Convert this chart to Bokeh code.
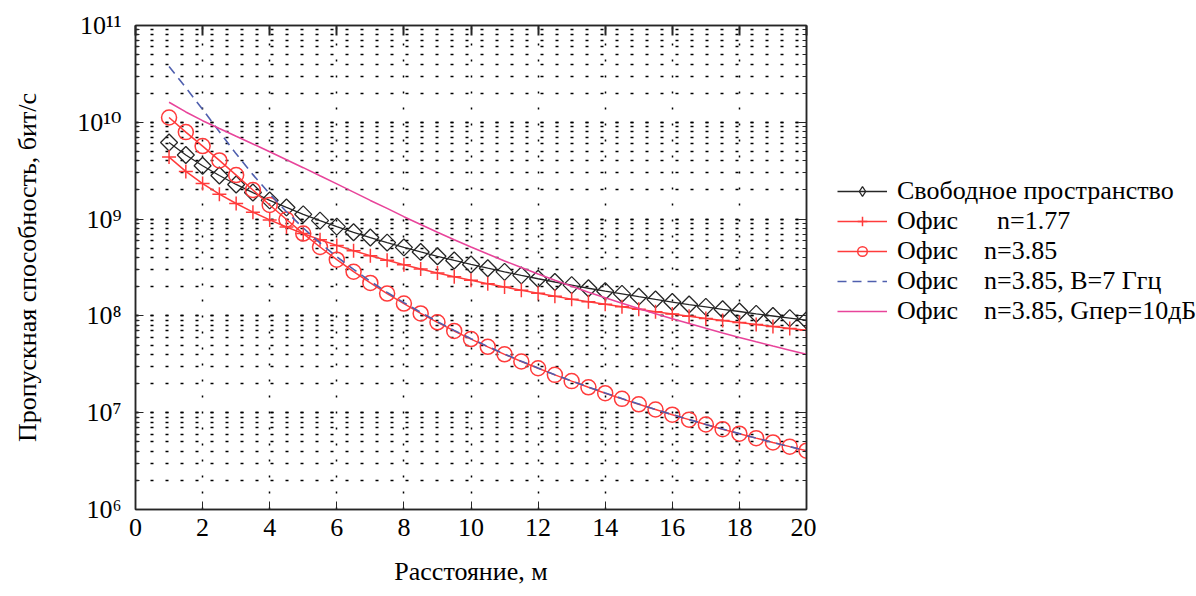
# -*- coding: utf-8 -*-
from bokeh.plotting import figure
from bokeh.layouts import row
from bokeh.models import (LogAxis, LinearAxis, Legend, LegendItem, FixedTicker,
                          LogTicker, CustomJSTickFormatter, Range1d)
from bokeh.embed import file_html
from bokeh.resources import INLINE

# ---------------- data ----------------
distance = [1.0, 1.5, 2.0, 2.5, 3.0, 3.5, 4.0, 4.5, 5.0, 5.5, 6.0, 6.5, 7.0, 7.5,
            8.0, 8.5, 9.0, 9.5, 10.0, 10.5, 11.0, 11.5, 12.0, 12.5, 13.0, 13.5,
            14.0, 14.5, 15.0, 15.5, 16.0, 16.5, 17.0, 17.5, 18.0, 18.5, 19.0,
            19.5, 20.0]

free_space = [6.18e9, 4.60e9, 3.56e9, 2.82e9, 2.28e9, 1.88e9, 1.56e9, 1.32e9,
              1.12e9, 9.64e8, 8.36e8, 7.31e8, 6.45e8, 5.72e8, 5.10e8, 4.58e8,
              4.13e8, 3.74e8, 3.40e8, 3.11e8, 2.85e8, 2.62e8, 2.42e8, 2.24e8,
              2.08e8, 1.93e8, 1.80e8, 1.69e8, 1.58e8, 1.48e8, 1.39e8, 1.31e8,
              1.24e8, 1.17e8, 1.11e8, 1.05e8, 9.98e7, 9.49e7, 9.03e7]

office_n177 = [4.37e9, 3.11e9, 2.33e9, 1.81e9, 1.45e9, 1.18e9, 9.81e8, 8.28e8,
               7.08e8, 6.12e8, 5.35e8, 4.72e8, 4.19e8, 3.75e8, 3.37e8, 3.05e8,
               2.78e8, 2.54e8, 2.33e8, 2.15e8, 1.99e8, 1.84e8, 1.71e8, 1.60e8,
               1.49e8, 1.40e8, 1.32e8, 1.24e8, 1.17e8, 1.105e8, 1.046e8, 9.92e7,
               9.42e7, 8.96e7, 8.53e7, 8.13e7, 7.76e7, 7.42e7, 7.10e7]

office_n385 = [1.12e10, 7.92e9, 5.68e9, 4.04e9, 2.85e9, 2.00e9, 1.40e9, 9.91e8,
               7.09e8, 5.15e8, 3.81e8, 2.86e8, 2.19e8, 1.70e8, 1.34e8, 1.06e8,
               8.58e7, 6.99e7, 5.76e7, 4.79e7, 4.01e7, 3.38e7, 2.88e7, 2.46e7,
               2.12e7, 1.83e7, 1.59e7, 1.39e7, 1.22e7, 1.08e7, 9.54e6, 8.48e6,
               7.56e6, 6.76e6, 6.07e6, 5.46e6, 4.93e6, 4.46e6, 4.05e6]

office_n385_b7 = [3.77e10, 2.28e10, 1.36e10, 7.98e9, 4.72e9, 2.88e9, 1.82e9, 1.19e9,
                  8.09e8, 5.67e8, 4.09e8, 3.02e8, 2.28e8, 1.75e8, 1.37e8, 1.09e8,
                  8.72e7, 7.09e7, 5.82e7, 4.83e7, 4.04e7, 3.40e7, 2.89e7, 2.47e7,
                  2.13e7, 1.84e7, 1.60e7, 1.40e7, 1.23e7, 1.08e7, 9.56e6, 8.49e6,
                  7.57e6, 6.77e6, 6.08e6, 5.47e6, 4.93e6, 4.46e6, 4.05e6]

office_n385_g10 = [1.61e10, 1.28e10, 1.04e10, 8.62e9, 7.17e9, 5.97e9, 4.96e9, 4.11e9,
                   3.40e9, 2.80e9, 2.31e9, 1.90e9, 1.56e9, 1.29e9, 1.06e9, 8.81e8,
                   7.33e8, 6.13e8, 5.16e8, 4.36e8, 3.70e8, 3.16e8, 2.71e8, 2.34e8,
                   2.03e8, 1.76e8, 1.54e8, 1.35e8, 1.19e8, 1.05e8, 9.35e7, 8.33e7,
                   7.44e7, 6.67e7, 5.99e7, 5.40e7, 4.88e7, 4.42e7, 4.01e7]

x_ticks = [0, 2, 4, 6, 8, 10, 12, 14, 16, 18, 20]

labels = ["Свободное пространство",
          "Офис\u00a0\u00a0\u00a0\u00a0\u00a0\u00a0n=1.77",
          "Офис\u00a0\u00a0\u00a0\u00a0n=3.85",
          "Офис\u00a0\u00a0\u00a0\u00a0n=3.85, B=7 Ггц",
          "Офис\u00a0\u00a0\u00a0\u00a0n=3.85, Gпер=10дБ"]

x_label = "Расстояние, м"
y_label = "Пропускная способность, бит/с"

# ---------------- styles ----------------
FONT = "Liberation Serif"
YTICK_FONT = "Liberation Serif, DejaVu Serif"
BLACK = "#262626"
RED = "#ff3b3b"
BLUE = "#4f5fae"
MAGENTA = "#e8449a"

SERIES = [
    dict(y=free_space, color=BLACK, marker="square", angle=0.785, msize=12,
         lmarker="diamond", lsize=12, dash="solid", lw=1.3),
    dict(y=office_n177, color=RED, marker="cross", angle=0.0, msize=14,
         lmarker="cross", lsize=14, dash="solid", lw=1.5),
    dict(y=office_n385, color=RED, marker="circle", angle=0.0, msize=15,
         lmarker="circle", lsize=14, dash="solid", lw=1.5),
    dict(y=office_n385_b7, color=BLUE, marker=None, angle=0.0, msize=0,
         lmarker=None, lsize=0, dash="9 6", lw=1.6),
    dict(y=office_n385_g10, color=MAGENTA, marker=None, angle=0.0, msize=0,
         lmarker=None, lsize=0, dash="solid", lw=1.6),
]

# ---------------- main plot ----------------
p = figure(width=816, height=596, x_range=Range1d(0, 20),
           y_range=Range1d(1e6, 1e11), y_axis_type="log",
           output_backend="svg", toolbar_location=None,
           min_border_left=135, min_border_right=10,
           min_border_top=25, min_border_bottom=87)
p.background_fill_color = "white"
p.border_fill_color = "white"
p.outline_line_color = BLACK
p.outline_line_width = 1.5

sup_formatter = CustomJSTickFormatter(code="""
const sup = {'0':'\u2070','1':'\u00b9','2':'\u00b2','3':'\u00b3','4':'\u2074',
             '5':'\u2075','6':'\u2076','7':'\u2077','8':'\u2078','9':'\u2079'};
const e = Math.round(Math.log10(tick));
return '10' + String(e).split('').map(c => sup[c]).join('');
""")
empty_formatter = CustomJSTickFormatter(code="return '';")

xticker = FixedTicker(ticks=x_ticks)
yticker = LogTicker(num_minor_ticks=10)

xa = p.xaxis[0]
xa.ticker = xticker
xa.axis_label = x_label
xa.axis_label_text_font = FONT
xa.axis_label_text_font_size = "26px"
xa.axis_label_text_font_style = "normal"
xa.axis_label_text_color = "black"
xa.axis_label_standoff = 18
xa.major_label_text_font = FONT
xa.major_label_text_font_size = "26px"
xa.major_label_text_color = "black"
xa.major_label_standoff = 9
xa.major_tick_in = 8
xa.major_tick_out = 0
xa.minor_tick_line_color = None
xa.axis_line_color = BLACK
xa.axis_line_width = 1.5
xa.major_tick_line_color = BLACK

ya = p.yaxis[0]
ya.ticker = yticker
ya.formatter = sup_formatter
ya.axis_label = y_label
ya.axis_label_text_font = FONT
ya.axis_label_text_font_size = "26px"
ya.axis_label_text_font_style = "normal"
ya.axis_label_text_color = "black"
ya.axis_label_standoff = 32
ya.major_label_text_font = YTICK_FONT
ya.major_label_text_font_size = "26px"
ya.major_label_text_color = "black"
ya.major_label_standoff = 14
ya.major_tick_in = 8
ya.major_tick_out = 0
ya.minor_tick_in = 4
ya.minor_tick_out = 0
ya.axis_line_color = BLACK
ya.axis_line_width = 1.5
ya.major_tick_line_color = BLACK
ya.minor_tick_line_color = BLACK

top = LinearAxis(ticker=xticker, formatter=empty_formatter,
                 major_tick_in=10, major_tick_out=0, minor_tick_line_color=None,
                 major_label_standoff=0, axis_line_color=BLACK, axis_line_width=1.5,
                 major_tick_line_color=BLACK, major_tick_line_width=2)
p.add_layout(top, "above")
right = LogAxis(ticker=yticker, formatter=empty_formatter,
                major_tick_in=8, major_tick_out=0, minor_tick_in=4, minor_tick_out=0,
                major_label_standoff=0, axis_line_color=BLACK, axis_line_width=1.5,
                major_tick_line_color=BLACK, minor_tick_line_color=BLACK)
p.add_layout(right, "right")

p.xgrid.ticker = xticker
p.xgrid.grid_line_color = "black"
p.xgrid.grid_line_dash = "2 14"
p.xgrid.grid_line_width = 1.5
p.ygrid.grid_line_color = "black"
p.ygrid.grid_line_dash = "3 12"
p.ygrid.grid_line_width = 1.5
p.ygrid.minor_grid_line_color = "black"
p.ygrid.minor_grid_line_dash = "3 12"
p.ygrid.minor_grid_line_width = 1.5

for s in SERIES:
    p.line(distance, s["y"], line_color=s["color"], line_width=s["lw"],
           line_dash=s["dash"])
    if s["marker"]:
        p.scatter(distance, s["y"], marker=s["marker"], size=s["msize"],
                  angle=s["angle"], fill_color=None, line_color=s["color"],
                  line_width=s["lw"])

# ---------------- legend panel (separate canvas to the right) ----------------
q = figure(width=380, height=596, x_range=Range1d(-100, -99),
           y_range=Range1d(1e6, 1e11), y_axis_type="log",
           output_backend="svg", toolbar_location=None,
           min_border_left=0, min_border_right=0, min_border_top=0,
           min_border_bottom=0)
q.axis.visible = False
q.grid.visible = False
q.outline_line_color = None
q.background_fill_color = "white"
q.border_fill_color = "white"

items = []
for s, lab in zip(SERIES, labels):
    rs = [q.line(distance, s["y"], line_color=s["color"], line_width=s["lw"],
                 line_dash=s["dash"])]
    if s["lmarker"]:
        rs.append(q.scatter(distance, s["y"], marker=s["lmarker"], size=s["lsize"],
                            fill_color=None, line_color=s["color"],
                            line_width=s["lw"]))
    items.append(LegendItem(label=lab, renderers=rs))

legend = Legend(items=items, location=(21, 183), orientation="vertical")
legend.border_line_color = None
legend.background_fill_alpha = 0
legend.label_text_font = FONT
legend.label_text_font_size = "26px"
legend.label_text_color = "black"
legend.glyph_width = 50
legend.glyph_height = 24
legend.label_height = 24
legend.spacing = -1
legend.label_standoff = 10
legend.padding = 4
legend.margin = 0
q.add_layout(legend, "center")

layout = row(p, q)

with open("out.html", "w", encoding="utf-8") as f:
    f.write(file_html(layout, INLINE))
